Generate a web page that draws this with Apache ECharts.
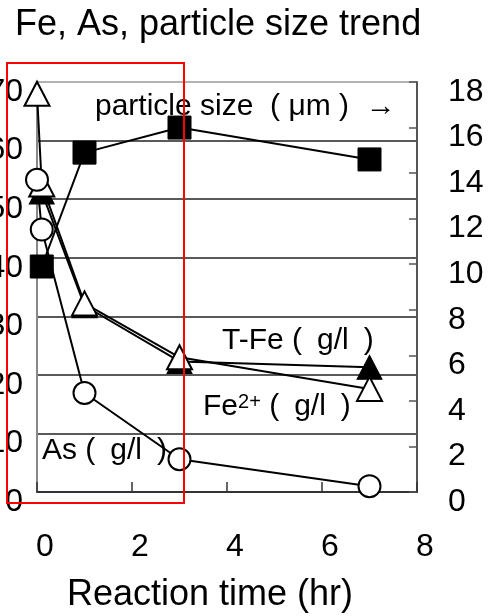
<!DOCTYPE html>
<html>
<head>
<meta charset="utf-8">
<script src="https://cdn.jsdelivr.net/npm/echarts@6/dist/echarts.min.js"></script>
<style>
  html, body { margin: 0; padding: 0; background: #fff; }
  #chart { width: 489px; height: 616px; }
</style>
</head>
<body>
<div id="chart"></div>
<script>
// values
const fe2Time = [0, 0.1, 1, 3, 7]
const fe2Vals = [68, 52.5, 32.2, 23, 17.6]      // Fe2+ (g/l), left axis
const tfeTime = [0.1, 1, 3, 7]
const tfeVals = [51.2, 31.8, 22.3, 21.3]       // T-Fe (g/l), left axis
const asTime = [0, 0.1, 1, 3, 7]
const asVals = [53.3, 44.8, 16.9, 5.6, 1.0]    // As (g/l), left axis
const sizeTime = [0.1, 1, 3, 7]
const sizeVals = [9.9, 14.9, 16.0, 14.6]       // particle size (um), right axis

const FONT = 'Liberation Sans, Arial, sans-serif'
const SP = '\u2002'

const pairs = (xs, ys) => xs.map((x, i) => [x, ys[i]])

const chart = echarts.init(document.getElementById('chart'), null, { renderer: 'canvas' })

const lineBase = {
  type: 'line',
  lineStyle: { color: '#000', width: 2 },
  emphasis: { disabled: true },
  animation: false
}

chart.setOption({
  backgroundColor: '#fff',
  animation: false,
  title: {
    text: 'Fe, As, particle size trend',
    left: 10, top: 2,
    textStyle: { fontFamily: FONT, fontSize: 36, fontWeight: 'normal', color: '#000' }
  },
  grid: { left: 37, right: 72, top: 82, bottom: 124, containLabel: false, outerBoundsMode: 'none' },
  xAxis: {
    type: 'value', min: 0, max: 8, interval: 2,
    name: 'Reaction time (hr)', nameLocation: 'middle', nameGap: 85,
    nameTextStyle: { fontFamily: FONT, fontSize: 36, color: '#000', padding: [0, 34, 0, 0] },
    axisLine: { lineStyle: { color: '#333', width: 2 } },
    axisTick: { inside: true, length: 10, lineStyle: { color: '#333', width: 1.5 } },
    axisLabel: { fontFamily: FONT, fontSize: 32, color: '#000', margin: 39, padding: [0, 0, 0, 16] },
    splitLine: { show: false }
  },
  yAxis: [
    {
      type: 'value', min: 0, max: 70, interval: 10, position: 'left',
      axisLine: { show: true, lineStyle: { color: '#888', width: 2 } },
      axisTick: { show: false },
      axisLabel: { fontFamily: FONT, fontSize: 32, color: '#000', margin: 14, verticalAlign: 'top', lineHeight: 20 },
      splitLine: { show: true, lineStyle: { color: ['#222', '#222', '#222', '#222', '#222', '#222', '#222', '#999'], width: 1.5 } }
    },
    {
      type: 'value', min: 0, max: 18, interval: 2, position: 'right',
      axisLine: { show: true, lineStyle: { color: '#555', width: 2 } },
      axisTick: { show: true, inside: true, length: 8, lineStyle: { color: '#555', width: 1.5 } },
      axisLabel: { fontFamily: FONT, fontSize: 32, color: '#000', margin: 31, verticalAlign: 'top', lineHeight: 20 },
      splitLine: { show: false }
    }
  ],
  series: [
    {
      ...lineBase, name: 'T-Fe', yAxisIndex: 0,
      data: pairs(tfeTime, tfeVals),
      symbol: 'triangle', symbolSize: [25, 24],
      itemStyle: { color: '#000', borderColor: '#000', borderWidth: 1 }
    },
    {
      ...lineBase, name: 'Fe2+', yAxisIndex: 0,
      data: pairs(fe2Time, fe2Vals),
      symbol: 'triangle', symbolSize: [25, 24],
      itemStyle: { color: '#fff', borderColor: '#000', borderWidth: 2 }
    },
    {
      ...lineBase, name: 'As', yAxisIndex: 0,
      data: pairs(asTime, asVals),
      symbol: 'circle', symbolSize: 22,
      itemStyle: { color: '#fff', borderColor: '#000', borderWidth: 2 }
    },
    {
      ...lineBase, name: 'particle size', yAxisIndex: 1,
      data: pairs(sizeTime, sizeVals),
      symbol: 'rect', symbolSize: 23,
      itemStyle: { color: '#000', borderColor: '#000', borderWidth: 1 }
    }
  ],
  graphic: [
    {
      type: 'text', left: 95, top: 92, z: 10,
      style: { text: 'particle size  ( μm )  →', font: '30px ' + FONT, fill: '#000' }
    },
    {
      type: 'text', left: 222, top: 326, z: 10,
      style: { text: 'T-Fe (' + SP + 'g/l' + SP + ')', font: '30px ' + FONT, fill: '#000' }
    },
    {
      type: 'text', left: 203, top: 392, z: 10,
      style: {
        text: 'Fe{sup|2+} (' + SP + 'g/l' + SP + ')', font: '30px ' + FONT, fill: '#000',
        rich: { sup: { fontSize: 20, fontFamily: FONT, verticalAlign: 'top', padding: [0, 0, 10, 0] } }
      }
    },
    {
      type: 'text', left: 42, top: 436, z: 10,
      style: { text: 'As (' + SP + 'g/l' + SP + ')', font: '30px ' + FONT, fill: '#000' }
    },
    {
      type: 'rect', z: 20,
      shape: { x: 7, y: 63, width: 177, height: 440 },
      style: { fill: 'none', stroke: '#ff0000', lineWidth: 2 }
    }
  ]
})
</script>
</body>
</html>
